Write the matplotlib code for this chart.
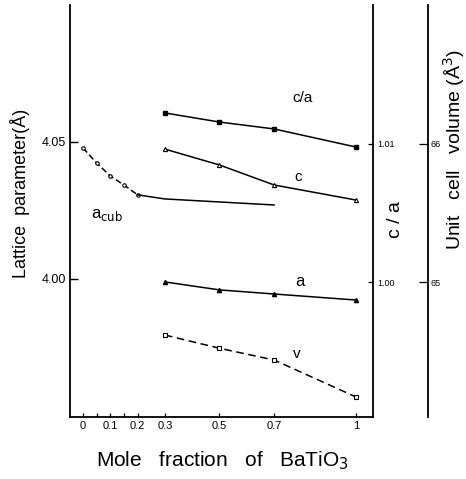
import matplotlib
matplotlib.use("Agg")
import matplotlib.pyplot as plt

plt.rcParams['font.family'] = ['Liberation Sans', 'DejaVu Sans']

# ---- data ----
x_tet = [0.3, 0.5, 0.7, 1.0]
ca_vals = [1.01225, 1.01159, 1.01109, 1.00978]      # c/a (right axis)
c_vals = [4.0474, 4.0416, 4.0343, 4.0288]           # c (A)
a_vals = [3.9989, 3.9960, 3.9945, 3.9923]           # a (A)
v_vals = [64.616, 64.520, 64.435, 64.167]           # unit cell volume (A^3)

x_cub = [0.0, 0.05, 0.1, 0.15, 0.2]
acub_vals = [4.0478, 4.0423, 4.0376, 4.0343, 4.0307]
x_cub2 = [0.2, 0.3, 0.5, 0.7]
acub2_vals = [4.0307, 4.0292, 4.0281, 4.0270]

xtick_pos = [0, 0.1, 0.2, 0.3, 0.5, 0.7, 1.0]
xtick_labels = ["0", "0.1", "0.2", "0.3", "0.5", "0.7", "1"]
xminor_pos = [0.05, 0.15]
ytick_left = [4.00, 4.05]
ytick_left_labels = ["4.00", "4.05"]
ytick_ca = [1.00, 1.01]
ytick_ca_labels = ["1.00", "1.01"]
ytick_v = [65, 66]
ytick_v_labels = ["65", "66"]

PX = 72 / 100  # points per pixel

fig = plt.figure(figsize=(4.66, 4.79), dpi=100)
ax = fig.add_axes([70/466, 62/479, 303/466, 412/479])
ax.set_xlim(-0.0476, 1.0623)
ax.set_ylim(3.9496, 4.1000)
for s in ['top', 'right']:
    ax.spines[s].set_visible(False)
for s in ['left', 'bottom']:
    ax.spines[s].set_linewidth(1.3)

ax2 = ax.twinx()
ax2.set_ylim(0.99022, 1.02007)
for s in ['top', 'left', 'bottom']:
    ax2.spines[s].set_visible(False)
ax2.spines['right'].set_linewidth(1.3)

ax3 = ax.twinx()
ax3.set_ylim(64.022, 67.007)
ax3.spines['right'].set_position(('outward', 55 * PX))
for s in ['top', 'left', 'bottom']:
    ax3.spines[s].set_visible(False)
ax3.spines['right'].set_linewidth(1.3)

lw = 1.1
# lattice parameters on left axis
ax.plot(x_tet, c_vals, '-', color='black', lw=lw, marker='^', ms=3,
        mfc='white', mec='black', mew=0.8)
ax.plot(x_tet, a_vals, '-', color='black', lw=lw, marker='^', ms=3,
        mfc='black', mec='black')
ax.plot(x_cub, acub_vals, '--', color='black', lw=lw, marker='o', ms=2.5,
        mfc='white', mec='black', mew=0.8, dashes=(4, 2))
ax.plot(x_cub2, acub2_vals, '-', color='black', lw=lw)
# c/a
ax2.plot(x_tet, ca_vals, '-', color='black', lw=lw, marker='s', ms=3,
         mfc='black', mec='black')
# volume
ax3.plot(x_tet, v_vals, '--', color='black', lw=lw, marker='s', ms=3,
         mfc='white', mec='black', mew=0.8, dashes=(5, 3))

# ticks
ax.set_xticks(xtick_pos)
ax.set_xticklabels(xtick_labels, fontsize=8)
ax.set_xticks(xminor_pos, minor=True)
ax.tick_params(axis='x', which='both', direction='in', length=4 * PX, width=0.9, pad=3)
ax.set_yticks(ytick_left)
ax.set_yticklabels(ytick_left_labels, fontsize=9)
ax.tick_params(axis='y', direction='in', length=8 * PX, width=1.0, pad=3)

ax2.set_yticks(ytick_ca)
ax2.set_yticklabels(ytick_ca_labels, fontsize=6.5)
ax2.tick_params(axis='y', direction='in', length=5 * PX, width=0.9, pad=3)

ax3.set_yticks(ytick_v)
ax3.set_yticklabels(ytick_v_labels, fontsize=6.5)
ax3.tick_params(axis='y', direction='in', length=9 * PX, width=0.9, pad=2)

# axis labels
fig.text(222/466, 1 - 461/479, "Mole   fraction   of   BaTiO$_3$",
         ha='center', va='center', fontsize=15)
fig.text(20/466, 1 - 193/479, "Lattice  parameter(Å)", rotation=90,
         ha='center', va='center', fontsize=13)
fig.text(396/466, 1 - 220/479, "c / a", rotation=90,
         ha='center', va='center', fontsize=14)
fig.text(454/466, 1 - 150/479, "Unit   cell   volume (Å$^3$)", rotation=90,
         ha='center', va='center', fontsize=14)

# in-plot annotations
fig.text(303/466, 1 - 98/479, "c/a", ha='center', va='center', fontsize=11)
fig.text(298/466, 1 - 177/479, "c", ha='center', va='center', fontsize=11)
fig.text(107/466, 1 - 215/479, "a$_{\\rm cub}$", ha='center', va='center', fontsize=12)
fig.text(300/466, 1 - 281/479, "a", ha='center', va='center', fontsize=12)
fig.text(297/466, 1 - 354/479, "v", ha='center', va='center', fontsize=11)

fig.savefig("out.png", dpi=100)
